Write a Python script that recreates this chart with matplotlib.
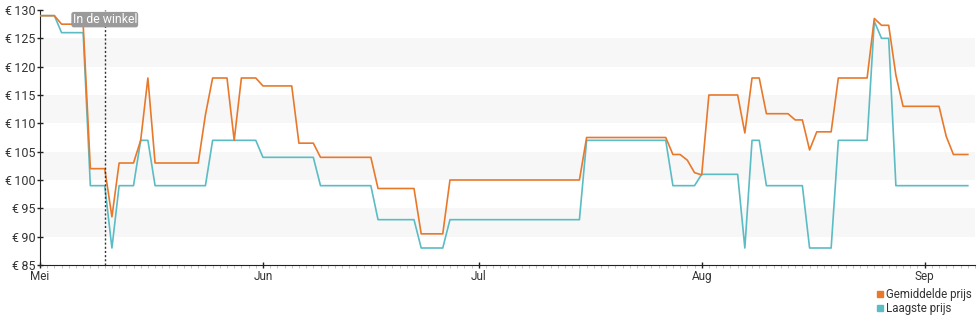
import matplotlib
matplotlib.use("Agg")
import matplotlib.pyplot as plt
from matplotlib.lines import Line2D
from matplotlib.ticker import MultipleLocator, FixedLocator

plt.rcParams['font.family'] = ['Roboto', 'DejaVu Sans']

# day index since 1 May
gem_days = [0, 2, 3, 6, 7, 9, 10, 11, 13, 14, 15, 16, 22, 23, 24, 26, 27, 28, 30, 31, 35, 36, 38, 39, 46,
            47, 52, 53, 56, 57, 75, 76, 87, 88, 89, 90, 91, 92, 93, 97, 98, 99, 100, 101, 104, 105, 106,
            107, 108, 110, 111, 115, 116, 117, 118, 119, 120, 125, 126, 127, 129]
gem_vals = [129, 129, 127.5, 127.5, 102, 102, 93.5, 103, 103, 107, 118, 103, 103, 111.5, 118, 118, 107, 118, 118,
            116.6, 116.6, 106.5, 106.5, 104, 104, 98.5, 98.5, 90.5, 90.5, 100, 100, 107.5, 107.5, 104.5, 104.5,
            103.5, 101.3, 100.9, 115, 115, 108.3, 118, 118, 111.7, 111.7, 110.6, 110.6, 105.3, 108.5, 108.5,
            118, 118, 128.5, 127.3, 127.3, 118.5, 113, 113, 107.7, 104.5, 104.5]

laag_days = [0, 2, 3, 6, 7, 9, 10, 11, 13, 14, 15, 16, 23, 24, 30, 31, 38, 39, 46, 47, 52, 53, 56, 57, 75, 76,
             87, 88, 91, 92, 97, 98, 99, 100, 101, 106, 107, 110, 111, 115, 116, 117, 118, 119, 129]
laag_vals = [129, 129, 126, 126, 99, 99, 88, 99, 99, 107, 107, 99, 99, 107, 107, 104, 104, 99, 99, 93, 93, 88, 88,
             93, 93, 107, 107, 99, 99, 101, 101, 88, 107, 107, 99, 99, 88, 88, 107, 107, 128, 125, 125, 99, 99]

month_pos = [0, 31, 61, 92, 123]
month_labels = ['Mei', 'Jun', 'Jul', 'Aug', 'Sep']
y_ticks = [85, 90, 95, 100, 105, 110, 115, 120, 125, 130]
marker_day = 9
marker_label = 'In de winkel'

ORANGE = '#e8792b'
TEAL = '#5bbcc4'

fig = plt.figure(figsize=(9.8, 3.25), dpi=100)
ax = fig.add_axes([40 / 980, 60 / 325, 935 / 980, 255 / 325])
ax.set_xlim(0, 130)
ax.set_ylim(85, 130)

for lo in [90, 100, 110, 120]:
    ax.axhspan(lo, lo + 5, color='#f7f7f7', zorder=0, lw=0)

ax.plot(laag_days, laag_vals, color=TEAL, lw=1.2, zorder=3)
ax.plot(gem_days, gem_vals, color=ORANGE, lw=1.2, zorder=4)

ax.axvline(marker_day, color='#333333', lw=1, ls=(0, (1.5, 1.5)), zorder=5)
ax.text(marker_day, 128.3, marker_label, ha='center', va='center', fontsize=8.8, color='white', zorder=6,
        bbox=dict(boxstyle='round,pad=0.1,rounding_size=0.2', fc='#9a9a9a', ec='none'))

for s in ['top', 'right']:
    ax.spines[s].set_visible(False)
ax.spines['left'].set_color('#222222')
ax.spines['bottom'].set_color('#222222')

ax.yaxis.set_major_locator(FixedLocator(y_ticks))
ax.set_yticklabels([f'€\u2009{v}' for v in y_ticks])
ax.tick_params(axis='y', length=5, width=1, direction='inout', color='#222222', labelsize=9,
               labelcolor='#333333', pad=1)

ax.xaxis.set_major_locator(FixedLocator(month_pos))
ax.set_xticklabels(month_labels)
ax.xaxis.set_minor_locator(MultipleLocator(1))
ax.tick_params(axis='x', which='major', length=5, width=1, direction='inout', color='#222222',
               labelsize=8.5, labelcolor='#333333', pad=1)
ax.tick_params(axis='x', which='minor', length=2, width=0.6, color='#bbbbbb')

handles = [Line2D([], [], marker='s', color=ORANGE, ls='none', markersize=5),
           Line2D([], [], marker='s', color=TEAL, ls='none', markersize=5)]
fig.legend(handles, ['Gemiddelde prijs', 'Laagste prijs'], loc='lower left',
           bbox_to_anchor=(868 / 980, 2 / 325), frameon=False, fontsize=8.3, handlelength=0.6,
           handletextpad=0.3, labelspacing=0.05, borderpad=0.2, labelcolor='#333333')

fig.savefig('out.png', dpi=100)
